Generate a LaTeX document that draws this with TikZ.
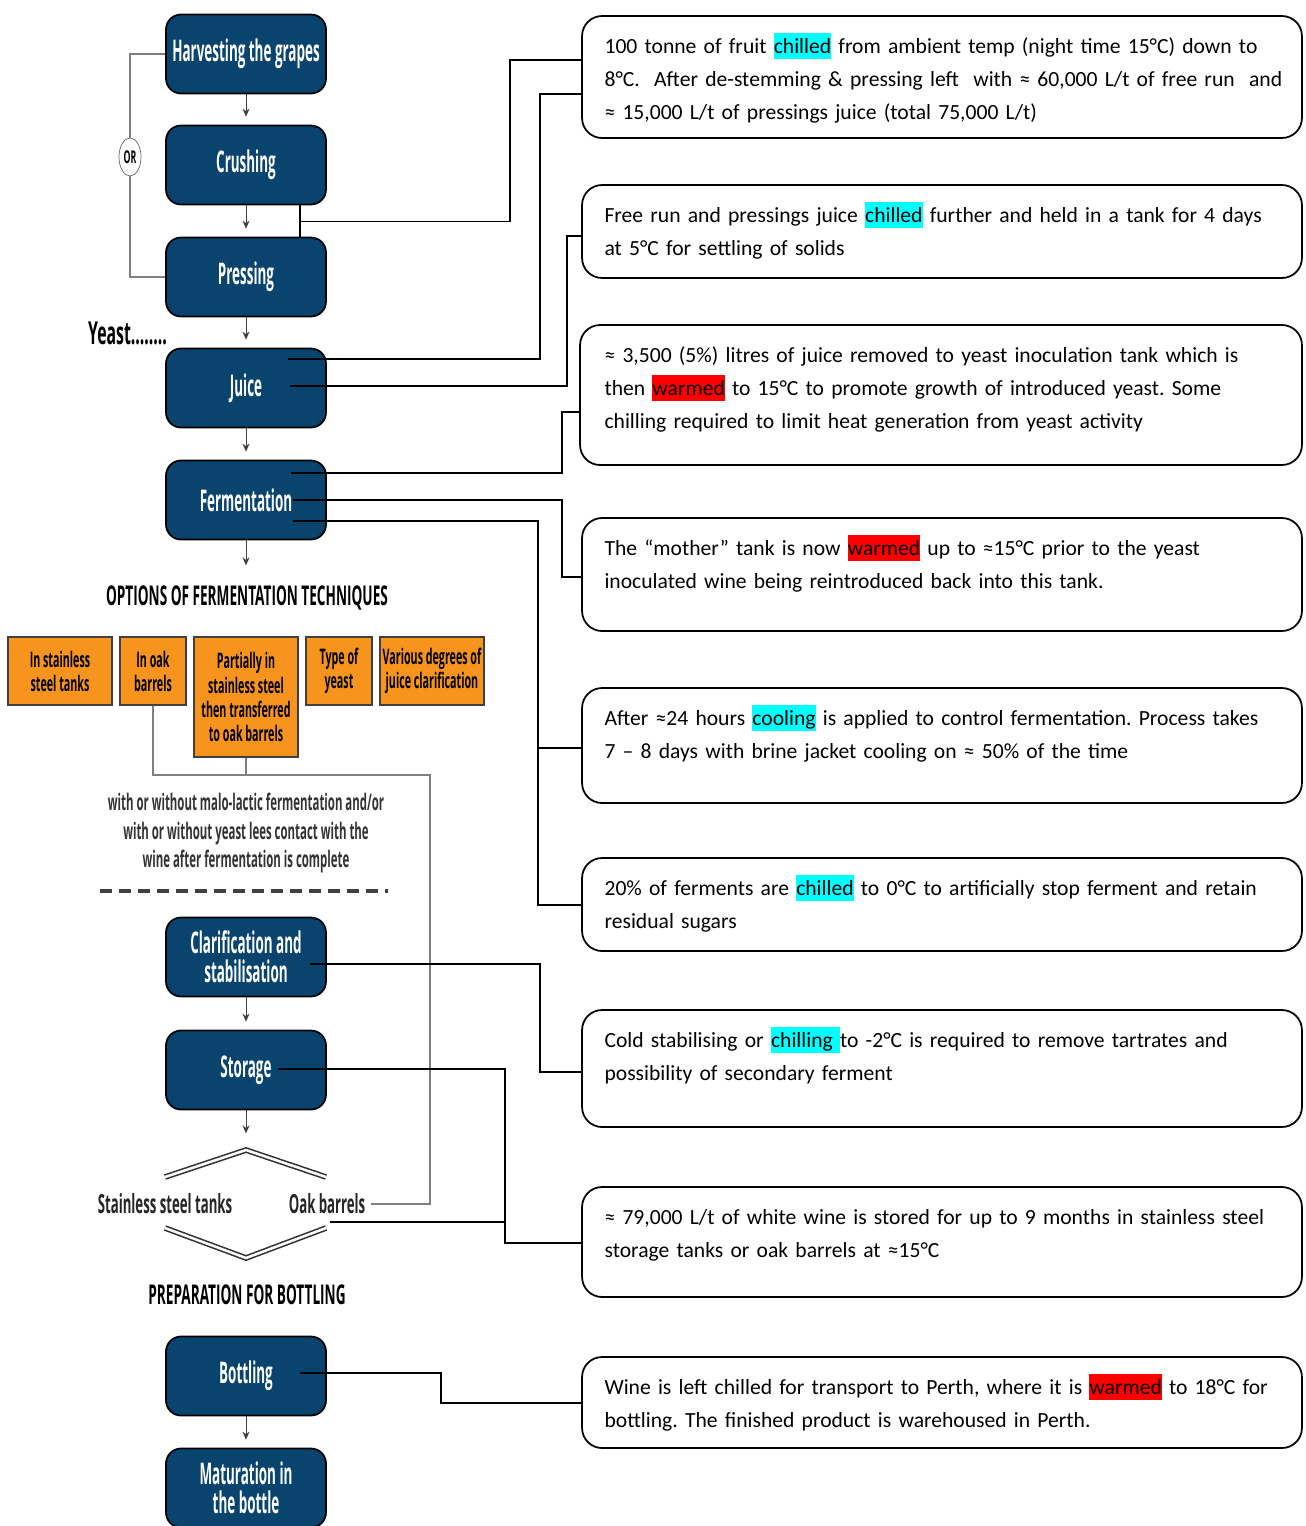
\documentclass[tikz,border=0pt]{standalone}
\usepackage{fontspec}
\setmainfont{Carlito}
\newfontfamily\condfont[FakeStretch=0.5]{Open Sans}
\newfontfamily\stagefont[FakeStretch=0.45]{Open Sans}
\usetikzlibrary{positioning}
\usetikzlibrary{arrows.meta, shapes.geometric}

\definecolor{stageblue}{RGB}{8,68,110}
\definecolor{techorange}{RGB}{247,148,30}
\definecolor{hlcyan}{RGB}{0,255,255}
\definecolor{hlred}{RGB}{255,0,0}

% highlighted words
\newcommand{\hlc}[1]{{\setlength{\fboxsep}{0pt}\colorbox{hlcyan}{\rule[-3.3pt]{0pt}{15pt}#1}}}
\newcommand{\hlw}[1]{{\setlength{\fboxsep}{0pt}\colorbox{hlred}{\rule[-3.3pt]{0pt}{15pt}#1}}}

\tikzset{
  stage/.style={draw=black, line width=1pt, fill=stageblue, rounded corners=0.3cm,
    minimum width=3.2cm, minimum height=1.58cm, inner xsep=2pt, text=white, align=center,
    font=\stagefont\bfseries\fontsize{17}{16.5}\selectfont},
  tech/.style={draw=black!75, line width=0.6pt, fill=techorange, inner sep=0pt,
    align=center, font=\condfont\bfseries\fontsize{12.2}{13.7}\selectfont},
  infobox/.style={draw=black, line width=1pt, rounded corners=0.4cm, minimum width=14.4cm},
  infotext/.style={anchor=north west, inner sep=0pt, text width=14cm, align=left,
    font=\frenchspacing\fontsize{12.3}{18.8}\selectfont},
  link/.style={black, line width=0.9pt},
  greyline/.style={black!50, line width=0.7pt},
  flow/.style={-{Stealth[length=1.6mm,width=1.4mm]}, black!75, line width=0.5pt},
  heading/.style={font=\condfont\bfseries\fontsize{15.5}{18}\selectfont},
  subhead/.style={text=black!85, font=\condfont\bfseries\fontsize{15}{18}\selectfont},
  chevron/.style={draw=black!80, line width=0.9pt, double=white, double distance=0.05cm}
}

\begin{document}
\begin{tikzpicture}[x=0.02cm, y=-0.02cm]
\useasboundingbox (0,0) rectangle (1306,1526);
\fill[white] (0,0) rectangle (1306,1526);

% process stages
\node[stage] (harvest) at (246,54) {Harvesting the grapes};
\node[stage] (crush) at (246,165) {Crushing};
\node[stage] (press) at (246,277) {Pressing};
\node[stage] (juice) at (246,388) {Juice};
\node[stage] (ferment) at (246,500) {Fermentation};
\node[stage] (clarif) at (246,957) {Clarification and\\stabilisation};
\node[stage] (storage) at (246,1070) {Storage};
\node[stage] (bottle) at (246,1376) {Bottling};
\node[stage] (mature) at (246,1488) {Maturation in\\the bottle};

\foreach \a/\b in {harvest/crush, crush/press, press/juice, juice/ferment, clarif/storage, bottle/mature}
  \draw[flow] (\a.south) -- ([shift={(0,-8)}]\b.north);
\draw[flow] (ferment.south) -- ++(0,25);
\draw[flow] (storage.south) -- ++(0,23);

% OR branch
\draw[greyline] (harvest.west) -| (130,165) |- (press.west);
\node[draw=black!60, fill=white, ellipse, inner sep=0pt, minimum width=0.44cm, minimum height=0.76cm,
  font=\condfont\bfseries\fontsize{10}{10}\selectfont] (orsign) at (130,157) {OR};

\node[anchor=west, font=\condfont\bfseries\fontsize{18}{16}\selectfont] (yeast) at (82,333) {Yeast........};

% fermentation options
\node[heading] (opttitle) at (247,598) {OPTIONS OF FERMENTATION TECHNIQUES};
\node[tech, minimum width=2.08cm, minimum height=1.36cm] (tsteel) at (60,671) {In stainless\\steel tanks};
\node[tech, minimum width=1.32cm, minimum height=1.36cm] (toak) at (153,671) {In oak\\barrels};
\node[tech, minimum width=2.08cm, minimum height=2.4cm] (tpart) at (246,697) {Partially in\\stainless steel\\then transferred\\to oak barrels};
\node[tech, minimum width=1.32cm, minimum height=1.36cm] (tyeast) at (339,671) {Type of\\yeast};
\node[tech, minimum width=2.08cm, minimum height=1.36cm] (tclar) at (432,671) {Various degrees of\\juice clarification};

\node[font=\condfont\bfseries\fontsize{13}{16.5}\selectfont, text=black!80, align=center] (malo) at (246,833)
  {with or without malo-lactic fermentation and/or\\with or without yeast lees contact with the\\wine after fermentation is complete};
\draw[black!75, line width=2pt, dash pattern=on 0.24cm off 0.14cm] (100,891) -- (388,891);

% storage options
\draw[chevron] (165,1177) -- (246,1150) -- (326,1177);
\node[subhead] (sst) at (165,1204) {Stainless steel tanks};
\node[subhead] (oak) at (327,1204) {Oak barrels};
\draw[chevron] (165,1228) -- (246,1258) -- (326,1228);
\node[heading] (preptitle) at (247,1295) {PREPARATION FOR BOTTLING};

\coordinate (gjoin) at (430,775);
\draw[greyline] (toak.south) |- (gjoin) |- (oak.east);
\draw[greyline] (tpart.south) -- (tpart.south |- gjoin);

% notes
\node[infobox, minimum height=2.44cm] (n1) at (942,77) {};
\node[infotext] (t1) at ([shift={(23,15)}]n1.north west) {\strut 100 tonne of fruit \hlc{chilled} from ambient temp (night time 15°C) down to\\8°C.\ \ After de-stemming \& pressing left\ \ with ≈ 60,000 L/t of free run\ \ and\\≈ 15,000 L/t of pressings juice (total 75,000 L/t)};
\node[infobox, minimum height=1.86cm] (n2) at (942,231.5) {};
\node[infotext] (t2) at ([shift={(23,15)}]n2.north west) {\strut Free run and pressings juice \hlc{chilled} further and held in a tank for 4 days\\at 5°C for settling of solids};
\node[infobox, minimum height=2.8cm, minimum width=14.44cm] (n3) at (941,395) {};
\node[infotext] (t3) at ([shift={(25,15)}]n3.north west) {\strut ≈ 3,500 (5\%) litres of juice removed to yeast inoculation tank which is\\then \hlw{warmed} to 15°C to promote growth of introduced yeast. Some\\chilling required to limit heat generation from yeast activity};
\node[infobox, minimum height=2.26cm] (n4) at (942,574.5) {};
\node[infotext] (t4) at ([shift={(23,15)}]n4.north west) {\strut The “mother” tank is now \hlw{warmed} up to ≈15°C prior to the yeast\\inoculated wine being reintroduced back into this tank.};
\node[infobox, minimum height=2.3cm] (n5) at (942,745.5) {};
\node[infotext] (t5) at ([shift={(23,15)}]n5.north west) {\strut After ≈24 hours \hlc{cooling} is applied to control fermentation. Process takes\\7 – 8 days with brine jacket cooling on ≈ 50\% of the time};
\node[infobox, minimum height=1.86cm] (n6) at (942,904.5) {};
\node[infotext] (t6) at ([shift={(23,15)}]n6.north west) {\strut 20\% of ferments are \hlc{chilled} to 0°C to artificially stop ferment and retain\\residual sugars};
\node[infobox, minimum height=2.34cm] (n7) at (942,1068.5) {};
\node[infotext] (t7) at ([shift={(23,15)}]n7.north west) {\strut Cold stabilising or \hlc{chilling }to -2°C is required to remove tartrates and\\possibility of secondary ferment};
\node[infobox, minimum height=2.2cm] (n8) at (942,1242) {};
\node[infotext] (t8) at ([shift={(23,15)}]n8.north west) {\strut ≈ 79,000 L/t of white wine is stored for up to 9 months in stainless steel\\storage tanks or oak barrels at ≈15°C};
\node[infobox, minimum height=1.82cm] (n9) at (942,1402.5) {};
\node[infotext] (t9) at ([shift={(23,15)}]n9.north west) {\strut Wine is left chilled for transport to Perth, where it is \hlw{warmed} to 18°C for\\bottling. The finished product is warehoused in Perth.};

% links from stages to notes
\draw[link] ([shift={(54,0)}]crush.south) -- ([shift={(54,0)}]press.north);
\draw[link] ([shift={(54,16)}]crush.south) -| (510,60) -- (n1.west |- 510,60);
\draw[link] ([shift={(42,-29)}]juice.center) -| (540,94) -- (n1.west |- 540,94);
\draw[link] ([shift={(44,-2)}]juice.center) -| (567,236) -- (n2.west |- 567,236);
\draw[link] ([shift={(45,-27)}]ferment.center) -| (562,412) -- (n3.west |- 562,412);
\draw[link] ([shift={(47,0)}]ferment.center) -| (562,577) -- (n4.west |- 562,577);
\draw[link] ([shift={(47,21)}]ferment.center) -| (538,905) -- (n6.west |- 538,905);
\draw[link] (538,748) -- (n5.west |- 538,748);
\draw[link] ([shift={(64,7)}]clarif.center) -| (540,1072) -- (n7.west |- 540,1072);
\draw[link] ([shift={(32,-1)}]storage.center) -| (505,1243) -- (n8.west |- 505,1243);
\draw[link] ([shift={(3,18)}]oak.center) -- (505,1222);
\draw[link] ([shift={(54,-3)}]bottle.center) -| (441,1403) -- (n9.west |- 441,1403);

\end{tikzpicture}
\end{document}
